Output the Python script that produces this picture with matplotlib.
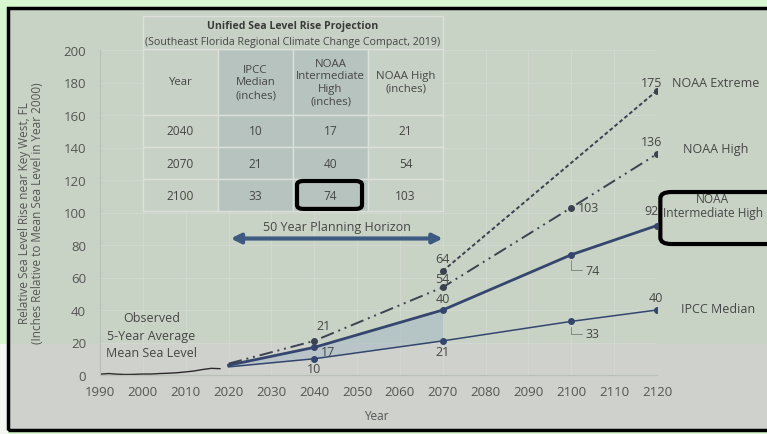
import matplotlib.pyplot as plt
from matplotlib.patches import Rectangle, FancyBboxPatch

plt.rcParams['font.family'] = ['Open Sans', 'DejaVu Sans']

# observed 5-year average mean sea level (inches, rel. to 2000)
obs_years = [1990, 1992, 1994, 1996, 1998, 2000, 2002, 2004, 2006, 2008, 2010, 2012, 2014, 2016, 2018]
obs_vals = [0.5, 0.9, 0.5, 0.3, 0.4, 0.6, 0.6, 0.9, 1.1, 1.4, 1.9, 2.5, 3.4, 4.1, 3.9]

# projections
proj_years = [2020, 2040, 2070, 2100, 2120]
ipcc = [5, 10, 21, 33, 40]
int_high = [6, 17, 40, 74, 92]
noaa_high = [7, 21, 54, 103, 136]
ext_years = [2070, 2120]
extreme = [64, 175]

# table in the upper left
tab_years = [2040, 2070, 2100]
tab_ipcc = [10, 21, 33]
tab_ih = [17, 40, 74]
tab_high = [21, 54, 103]
tab_cols = ['Year', 'IPCC\nMedian\n(inches)', 'NOAA\nIntermediate\nHigh\n(inches)', 'NOAA High\n(inches)']

bg = '#c9d3c5'
txt = '#464646'
navy = '#34466e'
gray = '#3c4250'

fig = plt.figure(figsize=(7.67, 4.35), dpi=100)
fig.patch.set_facecolor('#d8f6cf')

# photo frame
fig.add_artist(Rectangle((0, 0), 8/767, 90/435, transform=fig.transFigure,
                         facecolor='#f4f6f2', edgecolor='none', zorder=-3))
fig.add_artist(Rectangle((8/767, 4/435), 770/767, 422/435, transform=fig.transFigure,
                         facecolor=bg, edgecolor='none', zorder=-3))
fig.add_artist(Rectangle((8/767, 4/435), 770/767, 86/435, transform=fig.transFigure,
                         facecolor='#cfd1cc', edgecolor='none', zorder=-2))
fig.add_artist(Rectangle((8/767, 4/435), 770/767, 422/435, transform=fig.transFigure,
                         facecolor='none', edgecolor='black', lw=2.5, zorder=10))

ax = fig.add_axes([100/767, 59/435, 557/767, 325/435])
ax.patch.set_visible(False)
ax.set_xlim(1990, 2120)
ax.set_ylim(0, 200)
ax.set_xticks(range(1990, 2121, 10))
ax.set_yticks(range(0, 201, 20))
ax.tick_params(length=0, labelsize=9.5, colors='#555555')
ax.tick_params(axis='x', pad=7)
ax.tick_params(axis='y', pad=10)
for s in ['top', 'right']:
    ax.spines[s].set_visible(False)
for s in ['left', 'bottom']:
    ax.spines[s].set_color('#b9c0b7')
ax.grid(color='#d3d9d0', lw=0.7)
ax.set_axisbelow(True)

ax.set_ylabel('Relative Sea Level Rise near Key West, FL\n(Inches Relative to Mean Sea Level in Year 2000)',
              fontsize=8.5, color='#555555', linespacing=1.05)
ax.yaxis.set_label_coords(-0.1, 0.5)
ax.set_xlabel('Year', fontsize=8.5, color='#555555')
ax.xaxis.set_label_coords(0.497, -0.105)

# lines
ax.plot(obs_years, obs_vals, color='#2b2b2b', lw=1)
ax.fill_between(proj_years[:3], ipcc[:3], int_high[:3], color='#a9bcc6', alpha=0.6, lw=0)
ax.plot(proj_years, ipcc, color=navy, lw=1.1)
ax.plot(proj_years, int_high, color=navy, lw=2)
ax.plot(proj_years, noaa_high, color=gray, lw=1.4, dashes=[7, 2.5, 1, 2.5, 1, 2.5])
ax.plot(ext_years, extreme, color=gray, lw=1.4, dashes=[2, 1.3])
ax.plot(proj_years[1:], ipcc[1:], 'o', color=navy, ms=4)
ax.plot(proj_years[1:], int_high[1:], 'o', color=navy, ms=4)
ax.plot(proj_years[1:], noaa_high[1:], 'o', color=gray, ms=4)
ax.plot(ext_years, extreme, 'o', color=gray, ms=4)

def lab(x, y, s, dx, dy, ha='center', leader=False):
    kw = {}
    if leader:
        kw['arrowprops'] = dict(arrowstyle='-', color='#7a7f7a', lw=0.6, shrinkA=0, shrinkB=4,
                                connectionstyle='angle,angleA=0,angleB=90,rad=0')
    ax.annotate(s, (x, y), xytext=(dx, dy), textcoords='offset points', ha=ha, va='center',
                fontsize=9, color=txt, annotation_clip=False, **kw)

lab(2040, noaa_high[1], '21', 7, 11)
lab(2040, int_high[1], '17', 10, -3)
lab(2040, ipcc[1], '10', 0, -7)
lab(2070, extreme[0], '64', 0, 9)
lab(2070, noaa_high[2], '54', 0, 6)
lab(2070, int_high[2], '40', 0, 8)
lab(2070, ipcc[2], '21', 0, -8)
lab(2100, noaa_high[3], '103', 5, 0, ha='left')
lab(2100, int_high[3], '74', 10, -11, ha='left', leader=True)
lab(2100, ipcc[3], '33', 10, -9, ha='left', leader=True)
lab(2120, extreme[1], '175', -4, 6)
lab(2120, noaa_high[4], '136', -4, 9)
lab(2120, int_high[4], '92', -4, 11)
lab(2120, ipcc[4], '40', -1, 9)
lab(2120, extreme[1], 'NOAA Extreme', 11, 6, ha='left')
lab(2120, noaa_high[4], 'NOAA High', 19, 4, ha='left')
lab(2120, ipcc[4], 'IPCC Median', 17, 1, ha='left')
ax.text(1.100, 0.522, 'NOAA\nIntermediate High', transform=ax.transAxes, ha='center', va='center',
        fontsize=8.6, color=txt, linespacing=1.1)
ax.add_patch(FancyBboxPatch((1.006, 0.403), 0.25, 0.16, transform=ax.transAxes, clip_on=False,
                            boxstyle='round,pad=0,rounding_size=0.02', facecolor='none',
                            edgecolor='black', lw=3, zorder=6))

ax.text(2002, 24.5, 'Observed\n5-Year Average\nMean Sea Level', ha='center', va='center',
        fontsize=9, color=txt, linespacing=1.45)

# planning horizon arrow
ax.annotate('', xy=(2070, 84), xytext=(2020.5, 84),
            arrowprops=dict(arrowstyle='<|-|>', color='#3e5a80', lw=3, mutation_scale=14,
                            shrinkA=0, shrinkB=0))
ax.text(2045.3, 91.5, '50 Year Planning Horizon', ha='center', va='center', fontsize=9, color=txt)

# table
cells = [[str(y), str(a), str(b), str(c)] for y, a, b, c in zip(tab_years, tab_ipcc, tab_ih, tab_high)]
tab = ax.table(cellText=cells, colLabels=tab_cols, cellLoc='center',
               bbox=[0.0772, 0.5046, 0.5386, 0.4985], zorder=3)
tab.auto_set_font_size(False)
tab.set_fontsize(8.6)
for (r, c), cell in tab.get_celld().items():
    cell.set_edgecolor('#dde0da')
    cell.set_linewidth(1)
    cell.set_facecolor('#b7c3bf' if c in (1, 2) else '#c8d1c5')
    cell.get_text().set_color(txt)
    cell.set_height(66 if r == 0 else 32)
    if r == 0:
        cell.get_text().set_fontsize(8.2)
ax.add_patch(Rectangle((0.0772, 1.0031), 0.5386, 0.1015, transform=ax.transAxes, clip_on=False,
                       facecolor='#c8d1c5', edgecolor='#dde0da', lw=1, zorder=3))
ax.text(0.3465, 1.074, 'Unified Sea Level Rise Projection', transform=ax.transAxes, ha='center',
        va='center', fontsize=7.6, fontweight='bold', color='#3a3a3a', zorder=4)
ax.text(0.3465, 1.025, '(Southeast Florida Regional Climate Change Compact, 2019)', transform=ax.transAxes,
        ha='center', va='center', fontsize=7.7, color=txt, zorder=4)
ax.add_patch(FancyBboxPatch((0.3537, 0.511), 0.1167, 0.086, transform=ax.transAxes, clip_on=False,
                            boxstyle='round,pad=0,rounding_size=0.012', facecolor='none',
                            edgecolor='black', lw=3, zorder=6))

fig.savefig('out.png', dpi=100, facecolor=fig.get_facecolor())
